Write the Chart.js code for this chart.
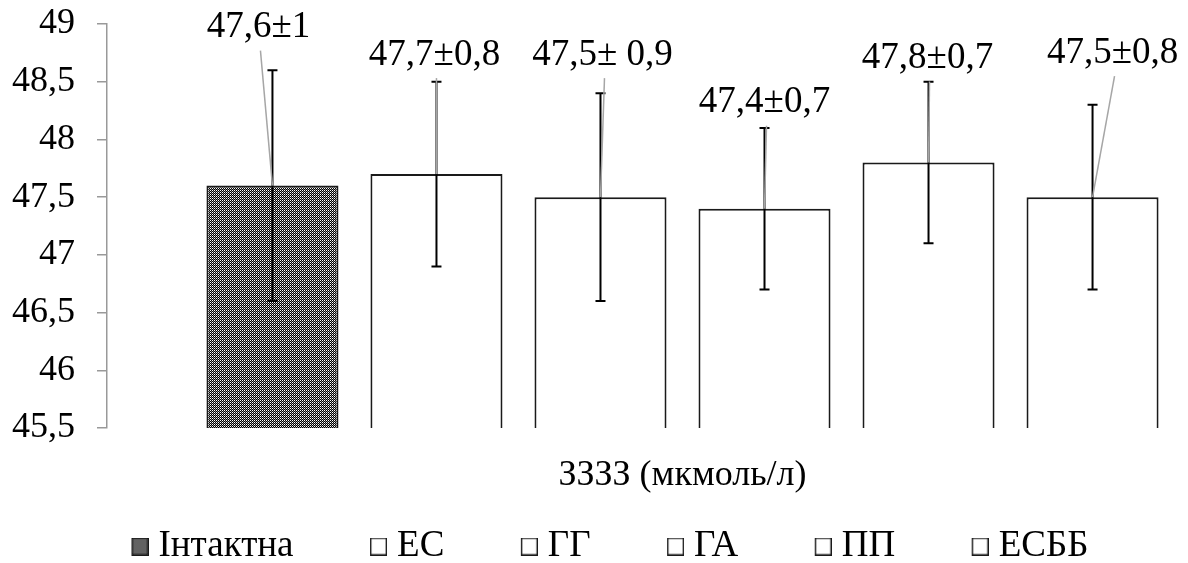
<!DOCTYPE html>
<html><head><meta charset="utf-8">
<script src="https://cdn.jsdelivr.net/npm/chart.js@4.4.1/dist/chart.umd.min.js"></script>
<style>
html,body{margin:0;padding:0;background:#fff;overflow:hidden;width:1188px;height:563px}
#wrap{position:absolute;left:0;top:0;width:1258px;height:575px}
canvas{display:block}
</style></head>
<body><div id="wrap"><canvas id="c" width="1258" height="575"></canvas></div>
<script>
// ---- data ----
const categories = ['ЗЗЗЗ (мкмоль/л)'];
const groups = ['Інтактна', 'ЕС', 'ГГ', 'ГА', 'ПП', 'ЕСББ'];
const means = [47.6, 47.7, 47.5, 47.4, 47.8, 47.5];
const errors = [1, 0.8, 0.9, 0.7, 0.7, 0.8];
const valueLabels = ['47,6±1', '47,7±0,8', '47,5± 0,9', '47,4±0,7', '47,8±0,7', '47,5±0,8'];
const yTickLabels = ['45,5', '46', '46,5', '47', '47,5', '48', '48,5', '49'];
const yMin = 45.5, yMax = 49, yStep = 0.5;

// ---- styling ----
const FONT = '"Liberation Serif", "Times New Roman", serif';
const labelOffsets = [[-14, -158], [-2, -119], [2, -142], [0, -106], [-1, -104], [20, -144]];

function tile() {
  const c = document.createElement('canvas'); c.width = 2; c.height = 2;
  const g = c.getContext('2d');
  g.fillStyle = '#000000'; g.fillRect(0, 0, 2, 2);
  g.fillStyle = '#ffffff'; g.fillRect(0, 0, 1, 1);
  g.fillStyle = '#8a8a8a'; g.fillRect(1, 1, 1, 1);
  return c;
}
function makeIcon(patterned) {
  const c = document.createElement('canvas'); c.width = 98; c.height = 18;
  const g = c.getContext('2d');
  g.fillStyle = patterned ? g.createPattern(tile(), 'repeat') : '#ffffff';
  g.fillRect(81, 0, 17, 18);
  g.strokeStyle = '#1a1a1a'; g.lineWidth = 1.4;
  g.strokeRect(81.7, 0.7, 15.6, 16.6);
  return c;
}

function build() {
  const canvas = document.getElementById('c');
  const ctx = canvas.getContext('2d');
  const pattern = ctx.createPattern(tile(), 'repeat');
  const icons = groups.map((g, i) => makeIcon(i === 0));

  ctx.save();
  ctx.font = '36px ' + FONT;
  const widest = Math.max(...yTickLabels.map(t => ctx.measureText(t).width));
  ctx.restore();

  const overlay = {
    id: 'overlay',
    afterDatasetsDraw(chart) {
      const c = chart.ctx, y = chart.scales.y;
      c.save();
      chart.data.datasets.forEach((ds, i) => {
        const el = chart.getDatasetMeta(i).data[0];
        const x = el.x;
        const lo = y.getPixelForValue(means[i] - errors[i]);
        const hi = y.getPixelForValue(means[i] + errors[i]);
        c.strokeStyle = '#000'; c.lineWidth = 2;
        c.beginPath();
        c.moveTo(x, lo); c.lineTo(x, hi);
        c.moveTo(x - 5, lo); c.lineTo(x + 5, lo);
        c.moveTo(x - 5, hi); c.lineTo(x + 5, hi);
        c.stroke();
      });
      chart.data.datasets.forEach((ds, i) => {
        const el = chart.getDatasetMeta(i).data[0];
        const lx = el.x + labelOffsets[i][0], ly = el.y + labelOffsets[i][1];
        c.strokeStyle = '#a6a6a6'; c.lineWidth = 1.5;
        c.beginPath(); c.moveTo(lx + 2, ly + 23); c.lineTo(el.x, el.y); c.stroke();
        c.fillStyle = '#000';
        c.font = '37px ' + FONT;
        c.textAlign = 'center'; c.textBaseline = 'middle';
        c.fillText(valueLabels[i], lx, ly);
      });
      c.restore();
    }
  };

  new Chart(ctx, {
    type: 'bar',
    data: {
      labels: categories,
      datasets: groups.map((g, i) => ({
        label: g,
        data: [means[i]],
        backgroundColor: i === 0 ? pattern : '#ffffff',
        borderColor: '#1a1a1a',
        borderWidth: 2,
        borderSkipped: false,
        categoryPercentage: 0.855,
        barPercentage: 0.805
      }))
    },
    options: {
      responsive: false,
      animation: false,
      devicePixelRatio: 1,
      layout: { padding: { left: 55, top: 24, right: 0, bottom: 0 } },
      plugins: {
        tooltip: { enabled: false },
        legend: {
          position: 'bottom',
          align: 'start',
          labels: {
            usePointStyle: true,
            pointStyleWidth: 81,
            padding: 4,
            color: '#000',
            font: { family: FONT, size: 37 },
            generateLabels(chart) {
              return chart.data.datasets.map((ds, i) => ({
                text: ds.label, pointStyle: icons[i], fillStyle: '#fff',
                strokeStyle: '#000', lineWidth: 0, hidden: false,
                datasetIndex: i, fontColor: '#000'
              }));
            }
          }
        }
      },
      scales: {
        x: {
          grid: { display: false, drawTicks: false },
          border: { display: false },
          ticks: { color: '#000', padding: 0, font: { family: FONT, size: 36, lineHeight: '96px' } }
        },
        y: {
          min: yMin, max: yMax,
          grid: { drawOnChartArea: false, drawTicks: true, tickLength: 10, color: '#999999', lineWidth: 1.5 },
          border: { display: true, color: '#999999', width: 1.5 },
          ticks: {
            stepSize: yStep, mirror: true, crossAlign: 'far',
            padding: -32 - widest, color: '#000',
            font: { family: FONT, size: 36 },
            callback: (v, idx) => yTickLabels[idx]
          },
          afterFit(s) { s.width = 52; }
        }
      }
    },
    plugins: [overlay]
  });
}

if (document.fonts && document.fonts.load) {
  document.fonts.load('36px "Liberation Serif"', 'Інтактна ЗЗЗЗ 47,6±1').then(build, build);
} else { build(); }
</script>
</body></html>
